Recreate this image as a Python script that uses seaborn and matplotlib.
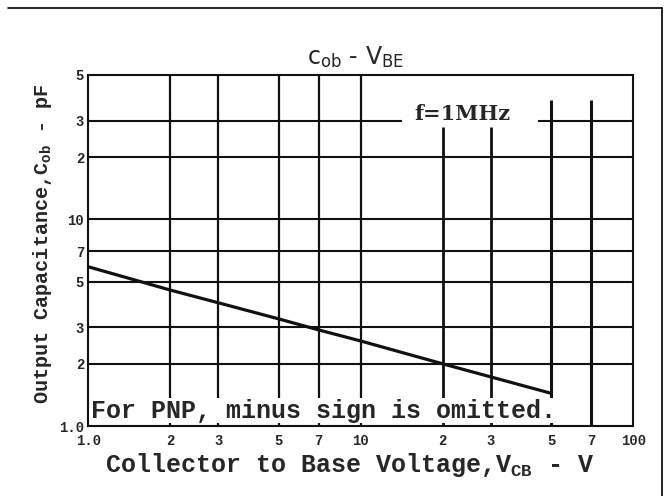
import numpy as np
import pandas as pd
import matplotlib
matplotlib.use("Agg")
import matplotlib.pyplot as plt
from matplotlib.lines import Line2D
import seaborn as sns

# valores (Cob x VCB)
vcb = [1.0, 2.0, 3.0, 5.0, 7.0, 10.0, 20.0, 50.0]
cob = [5.9, 4.55, 3.95, 3.3, 2.92, 2.58, 2.0, 1.44]

x_ticks = [1, 2, 3, 5, 7, 10, 20, 30, 50, 70, 100]
x_labels = ["1.0", "2", "3", "5", "7", "10", "2", "3", "5", "7", "100"]
y_ticks = [1, 2, 3, 5, 7, 10, 20, 30, 50]
y_labels = ["1.0", "2", "3", "5", "7", "10", "2", "3", "5"]

# linhas da grade (algumas não chegam ao topo)
grade_h = [2, 3, 5, 7, 10, 20]
grade_v_cheia = [2, 3, 5, 7, 10]
grade_v_meia = [20, 30]
grade_v_alta = [50, 70]

df = pd.DataFrame({"VCB": vcb, "Cob": cob})

sns.set_style("white")
plt.rcParams["font.family"] = ["Liberation Mono", "DejaVu Sans"]
plt.rcParams["font.weight"] = "bold"
plt.rcParams["mathtext.fontset"] = "custom"
plt.rcParams["mathtext.rm"] = "Liberation Mono:bold"
plt.rcParams["mathtext.it"] = "Liberation Mono:bold"
plt.rcParams["mathtext.bf"] = "Liberation Mono:bold"
plt.rcParams["mathtext.sf"] = "DejaVu Sans:weight=normal"

fig = plt.figure(figsize=(6.68, 4.96), dpi=100)
ax = fig.add_axes([0.132, 0.141, 0.816, 0.708])
ax.set_xscale("log")
ax.set_yscale("log")
ax.set_xlim(1, 100)
ax.set_ylim(1, 50)

cor = "#111111"
for y in grade_h:
    ax.axhline(y, color=cor, lw=1.5, zorder=1)
# linha de 30 pF interrompida pelo texto f=1MHz
ax.hlines([30, 30], [1, 44.8], [14.2, 100], color=cor, lw=1.5, zorder=1)
for x in grade_v_cheia:
    ax.axvline(x, color=cor, lw=1.6, zorder=1)
ax.vlines(grade_v_meia, 1, 28.0, color=cor, lw=2.0, zorder=1)
ax.vlines(grade_v_alta, 1, 37.8, color=cor, lw=2.2, zorder=1)

sns.lineplot(data=df, x="VCB", y="Cob", color=cor, lw=2.3, ax=ax, zorder=3)

for s in ax.spines.values():
    s.set_color(cor)
    s.set_linewidth(1.5)

ax.set_xticks(x_ticks)
ax.set_xticklabels(x_labels, fontsize=10, fontweight="bold")
ax.set_yticks(y_ticks)
ax.set_yticklabels(y_labels, fontsize=10, fontweight="bold")
ax.minorticks_off()
ax.tick_params(axis="x", length=0, pad=6)
ax.tick_params(axis="y", length=0, pad=3)

ax.set_xlabel("Collector to Base Voltage,V$_{CB}$ - V", fontsize=18, fontweight="bold")
ax.xaxis.set_label_coords(0.48, -0.07)
ax.set_ylabel("Output Capacitance,C$_{ob}$ - pF", fontsize=14.5, fontweight="bold")
ax.yaxis.set_label_coords(-0.062, 0.52)

ax.text(0.49, 1.05, r"c$_{\mathsf{ob}}$ - V$_{\mathsf{BE}}$", transform=ax.transAxes,
        ha="center", va="center", fontsize=17, fontweight="normal",
        family="DejaVu Sans")

ax.text(23.6, 32.4, "f=1MHz", ha="center", va="center", fontsize=15,
        fontweight="bold", family="DejaVu Serif", zorder=4)
ax.text(1.02, 1.04, "For PNP, minus sign is omitted.", ha="left", va="bottom",
        fontsize=18, fontweight="bold", zorder=4,
        bbox=dict(facecolor="white", edgecolor="none", pad=0.5))

# moldura da imagem (topo e direita)
fig.add_artist(Line2D([0.012, 0.991], [0.984, 0.984], color="black", lw=1.2))
fig.add_artist(Line2D([0.991, 0.991], [0.0, 0.984], color="black", lw=1.2))

fig.savefig("out.png", dpi=100)
